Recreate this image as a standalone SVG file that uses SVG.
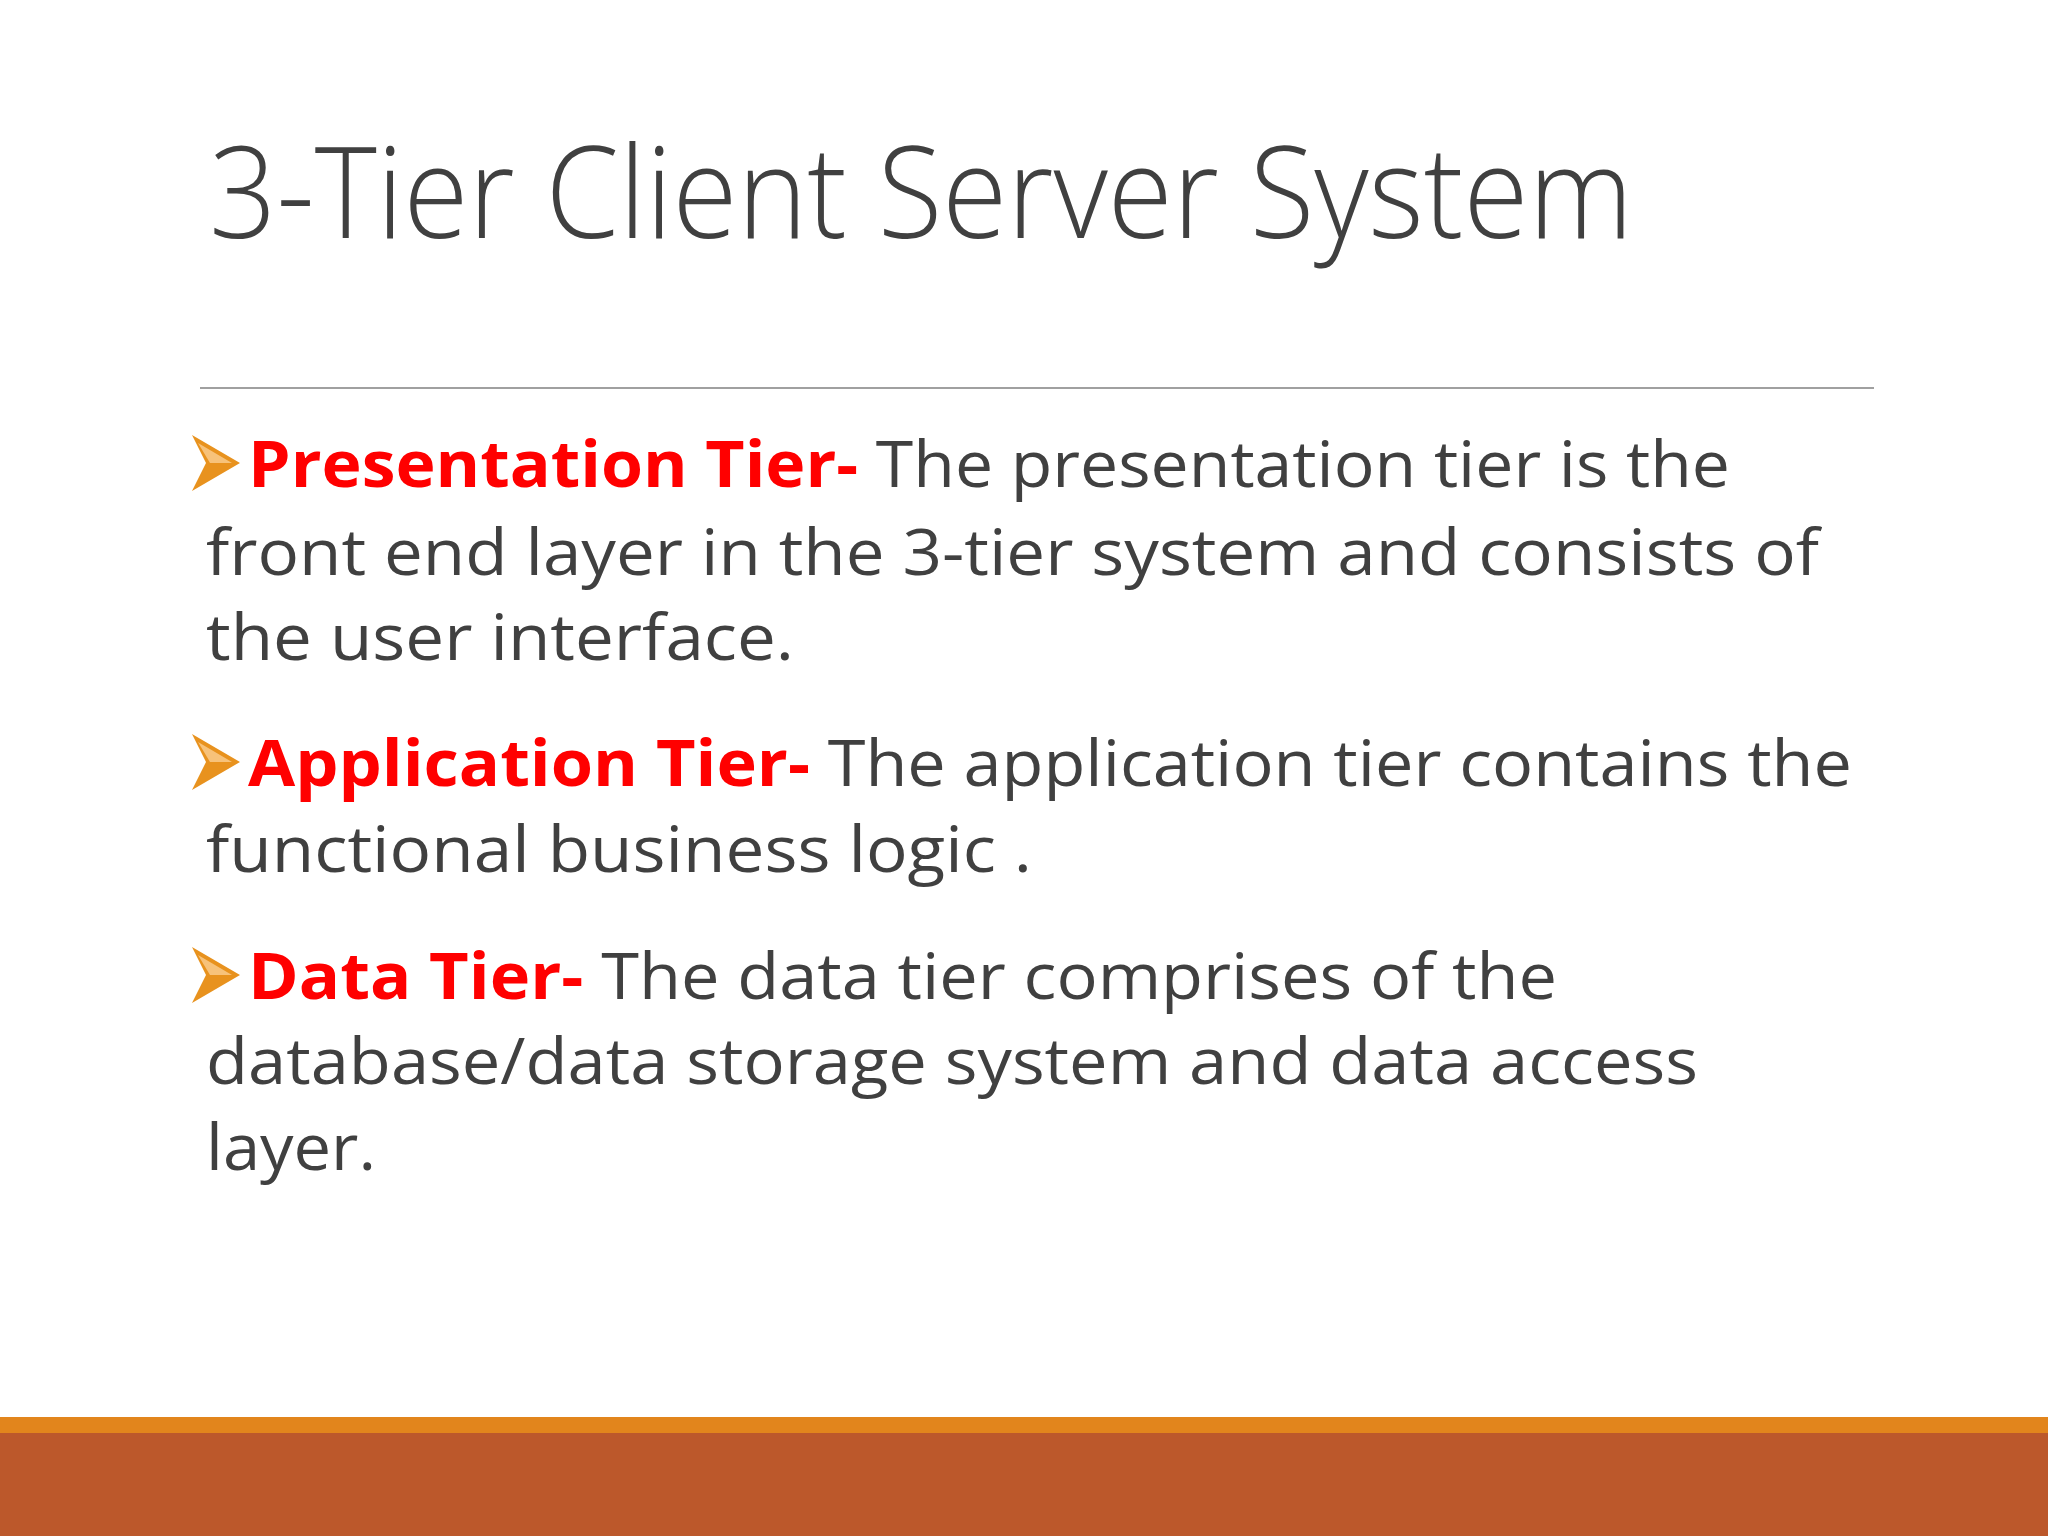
<svg xmlns="http://www.w3.org/2000/svg" width="2048" height="1536" viewBox="0 0 2048 1536">
<style>
.t{font-family:"Open Sans","Liberation Sans",sans-serif;font-size:64px;fill:#404040}
.r{fill:#FF0000;font-weight:bold}
</style>
<defs>
<g id="bul"><polygon points="0,-28 48,0 0,28 14,0" fill="#E8921E"/><polygon points="6,-20 40,0 18,0" fill="#F7C27A"/></g>
</defs>
<rect width="2048" height="1536" fill="#FFFFFF"/>
<text x="209" y="238" textLength="1424" lengthAdjust="spacingAndGlyphs" style="font-family:'Open Sans','Liberation Sans',sans-serif;font-weight:300;font-size:128px;fill:#404040">3-Tier Client Server System</text>
<line x1="200" y1="388" x2="1874" y2="388" stroke="#A0A0A0" stroke-width="2"/>
<use href="#bul" x="192" y="463"/>
<use href="#bul" x="192" y="762"/>
<use href="#bul" x="192" y="975"/>
<text class="t" x="248" y="487" textLength="1482" lengthAdjust="spacingAndGlyphs"><tspan class="r">Presentation Tier-</tspan> The presentation tier is the</text>
<text class="t" x="206" y="575" textLength="1613" lengthAdjust="spacingAndGlyphs">front end layer in the 3-tier system and consists of</text>
<text class="t" x="206" y="660" textLength="588" lengthAdjust="spacingAndGlyphs">the user interface.</text>
<text class="t" x="248" y="786" textLength="1604" lengthAdjust="spacingAndGlyphs"><tspan class="r">Application Tier-</tspan> The application tier contains the</text>
<text class="t" x="206" y="872" textLength="826" lengthAdjust="spacingAndGlyphs">functional business logic .</text>
<text class="t" x="248" y="999" textLength="1309" lengthAdjust="spacingAndGlyphs"><tspan class="r">Data Tier-</tspan> The data tier comprises of the</text>
<text class="t" x="206" y="1084" textLength="1492" lengthAdjust="spacingAndGlyphs">database/data storage system and data access</text>
<text class="t" x="206" y="1170" textLength="170" lengthAdjust="spacingAndGlyphs">layer.</text>
<rect x="0" y="1417" width="2048" height="16" fill="#E2851C"/>
<rect x="0" y="1433" width="2048" height="103" fill="#BC582B"/>
</svg>
